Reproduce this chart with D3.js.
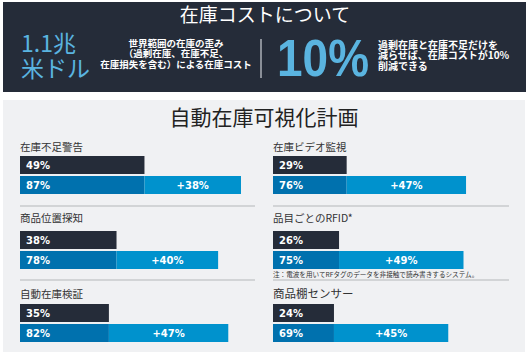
<!DOCTYPE html>
<html>
<head>
<meta charset="utf-8">
<script src="https://cdn.jsdelivr.net/npm/d3@7"></script>
<style>
  body { margin: 0; background: #fff; }
  text { font-family: "Noto Sans CJK JP", "Noto Sans", sans-serif; }
</style>
</head>
<body>
<div id="chart"></div>
<script>
const categories = ["在庫不足警告", "在庫ビデオ監視", "商品位置探知", "品目ごとのRFID*", "自動在庫検証", "商品棚センサー"];
const currentValues = [49, 29, 38, 26, 35, 24];
const automatedValues = [87, 76, 78, 75, 82, 69];

const headerTitle = "在庫コストについて";
const costFigure = ["1.1兆", "米ドル"];
const costText = ["世界範囲の在庫の歪み", "（過剰在庫、在庫不足、", "在庫損失を含む）による在庫コスト"];
const savingFigure = "10%";
const savingText = ["過剰在庫と在庫不足だけを", "減らせば、在庫コストが10%", "削減できる"];
const panelTitle = "自動在庫可視化計画";
const footnote = "注：電波を用いてRFタグのデータを非接触で読み書きするシステム。";

const width = 529, height = 352;
const dark = "#252c39", blueDark = "#0071ae", blueLight = "#0092cd", lightBlue = "#5ab4e0";

const svg = d3.select("#chart").append("svg")
  .attr("width", width)
  .attr("height", height);

// header panel
svg.append("rect")
  .attr("x", 3).attr("y", 2).attr("width", 523).attr("height", 90)
  .attr("fill", dark);

svg.append("text")
  .attr("x", 265).attr("y", 22)
  .attr("text-anchor", "middle")
  .style("font-size", "19px")
  .attr("fill", "#fff")
  .text(headerTitle);

svg.selectAll(".cost-fig")
  .data(costFigure)
  .enter().append("text")
  .attr("class", "cost-fig")
  .attr("x", 21)
  .attr("y", (d, i) => 52 + i * 25)
  .style("font-size", "23px")
  .attr("fill", lightBlue)
  .text(d => d);

svg.selectAll(".cost-text")
  .data(costText)
  .enter().append("text")
  .attr("class", "cost-text")
  .attr("x", 176)
  .attr("y", (d, i) => 47 + i * 10.3)
  .attr("text-anchor", "middle")
  .style("font-size", "9.5px")
  .style("font-weight", "bold")
  .attr("fill", "#fff")
  .text(d => d);

svg.append("line")
  .attr("x1", 261).attr("x2", 261).attr("y1", 39).attr("y2", 78)
  .attr("stroke", "#8a8f98").attr("stroke-width", 2);

svg.append("text")
  .attr("x", 277).attr("y", 76)
  .attr("textLength", 92)
  .attr("lengthAdjust", "spacingAndGlyphs")
  .style("font-family", "'Liberation Sans', Arial, sans-serif")
  .style("font-size", "52px")
  .style("font-weight", "bold")
  .attr("fill", lightBlue)
  .text(savingFigure);

svg.selectAll(".saving-text")
  .data(savingText)
  .enter().append("text")
  .attr("class", "saving-text")
  .attr("x", 378)
  .attr("y", (d, i) => 49 + i * 10.3)
  .style("font-size", "10px")
  .style("font-weight", "bold")
  .attr("fill", "#fff")
  .text(d => d);

// lower panel
svg.append("rect")
  .attr("x", 3).attr("y", 100).attr("width", 522).attr("height", 252)
  .attr("fill", "#f0f1f3");

svg.append("text")
  .attr("x", 264).attr("y", 125)
  .attr("text-anchor", "middle")
  .style("font-size", "21px")
  .attr("fill", "#222")
  .text(panelTitle);

const x = d3.scaleLinear().domain([0, 100]).range([0, 254]);
const colX = [20, 273];
const barTop = [156, 231, 304];
const labelY = [151, 222, 298];
const sepY = [206, 280];
const barH = 18;

const items = categories.map((c, i) => ({
  name: c,
  current: currentValues[i],
  automated: automatedValues[i],
  col: i % 2,
  row: Math.floor(i / 2)
}));

const g = svg.selectAll(".item")
  .data(items)
  .enter().append("g")
  .attr("class", "item")
  .attr("transform", d => `translate(${colX[d.col]},0)`);

g.append("text")
  .attr("x", 0)
  .attr("y", d => labelY[d.row])
  .style("font-size", d => d.row === 2 && d.col === 1 ? "11.5px" : "10.5px")
  .attr("fill", "#333")
  .text(d => d.name);

g.append("rect")
  .attr("x", 0)
  .attr("y", d => barTop[d.row])
  .attr("width", d => x(d.current))
  .attr("height", barH)
  .attr("fill", dark);

g.append("rect")
  .attr("x", 0)
  .attr("y", d => barTop[d.row] + barH + 2)
  .attr("width", d => x(d.current))
  .attr("height", barH)
  .attr("fill", blueDark);

g.append("rect")
  .attr("x", d => x(d.current))
  .attr("y", d => barTop[d.row] + barH + 2)
  .attr("width", d => x(d.automated) - x(d.current))
  .attr("height", barH)
  .attr("fill", blueLight);

const barText = sel => sel
  .style("font-family", "'DejaVu Sans', sans-serif")
  .style("font-size", "10px")
  .style("font-weight", "bold")
  .attr("fill", "#fff");

g.append("text")
  .attr("x", 6)
  .attr("y", d => barTop[d.row] + 13)
  .call(barText)
  .text(d => d.current + "%");

g.append("text")
  .attr("x", 6)
  .attr("y", d => barTop[d.row] + barH + 15)
  .call(barText)
  .text(d => d.automated + "%");

g.append("text")
  .attr("x", d => (x(d.current) + x(d.automated)) / 2)
  .attr("y", d => barTop[d.row] + barH + 15)
  .attr("text-anchor", "middle")
  .call(barText)
  .text(d => "+" + (d.automated - d.current) + "%");

// separators
colX.forEach((cx, ci) => {
  sepY.forEach(sy => {
    svg.append("line")
      .attr("x1", cx).attr("x2", cx + (ci === 0 ? 235 : 236))
      .attr("y1", sy).attr("y2", sy)
      .attr("stroke", "#c9cacc").attr("stroke-width", 1.5);
  });
});

svg.append("text")
  .attr("x", colX[1])
  .attr("y", 277)
  .style("font-size", "6.6px")
  .attr("fill", "#333")
  .text(footnote);
</script>
</body>
</html>
